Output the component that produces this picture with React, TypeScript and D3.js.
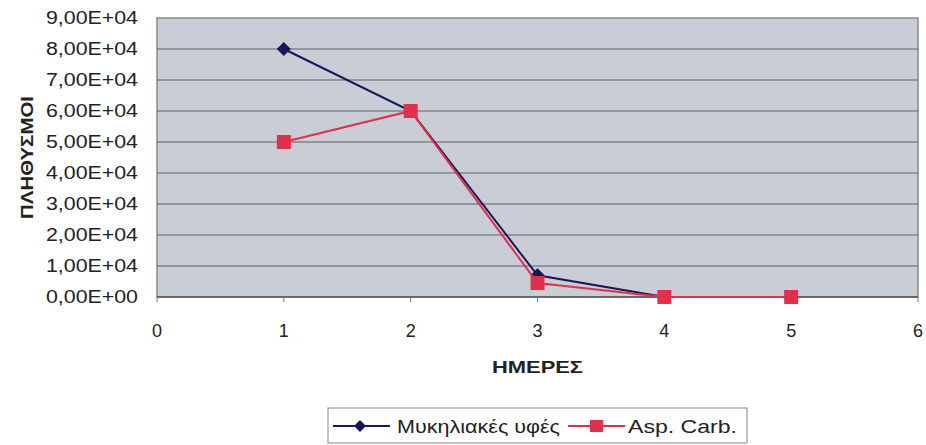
import React from "react";
import * as d3 from "d3";

// days on the x axis
const days = [1, 2, 3, 4, 5];
const fungal = [80000, 60000, 7000, 0, 0]; // Μυκηλιακές υφές
const aspCarb = [50000, 60000, 4500, 0, 0]; // Asp. Carb.
const yTicks = [0, 10000, 20000, 30000, 40000, 50000, 60000, 70000, 80000, 90000];
const xTicks = [0, 1, 2, 3, 4, 5, 6];

const fmt = (v: number) => (v / 10000).toFixed(2).replace(".", ",") + "E+" + (v === 0 ? "00" : "04");

export default function App() {
  const width = 926;
  const height = 445;
  const m = { left: 157, right: 8, top: 18, bottom: 148 };
  const x = d3.scaleLinear().domain([0, 6]).range([m.left, width - m.right]);
  const y = d3.scaleLinear().domain([0, 90000]).range([height - m.bottom, m.top]);
  const line = d3
    .line<number>()
    .x((_, i) => x(days[i]))
    .y(d => y(d));
  const font = "'Liberation Sans', Arial, sans-serif";
  const blue = "#16165a";
  const red = "#e2304c";

  const diamond = (cx: number, cy: number, r: number) =>
    `M${cx},${cy - r}L${cx + r},${cy}L${cx},${cy + r}L${cx - r},${cy}Z`;

  return (
    <svg width={width} height={height} style={{ position: "absolute", left: 0, top: 0, background: "#fff" }} fontFamily={font}>
      <rect x={x(0)} y={y(90000)} width={x(6) - x(0)} height={y(0) - y(90000)} fill="#c9cdd6" stroke="#8a8a8a" strokeWidth={1.5} />
      {yTicks.map(t => (
        <g key={t}>
          {t > 0 && t < 90000 && (
            <line x1={x(0)} x2={x(6)} y1={y(t)} y2={y(t)} stroke="#5e6066" strokeWidth={1.2} />
          )}
          <text x={138} y={y(t)} dy="0.36em" textAnchor="end" fontSize={18} fill="#222"
            textLength={92} lengthAdjust="spacingAndGlyphs">
            {fmt(t)}
          </text>
        </g>
      ))}
      <line x1={x(0)} x2={x(6)} y1={y(0)} y2={y(0)} stroke="#555" strokeWidth={1.5} />
      {xTicks.map(t => (
        <g key={t}>
          <line x1={x(t)} x2={x(t)} y1={y(0)} y2={y(0) + 5} stroke="#777" strokeWidth={1} />
          <text x={x(t)} y={y(0) + 40} textAnchor="middle" fontSize={18} fill="#222">
            {t}
          </text>
        </g>
      ))}
      <text
        transform={`translate(33,${(y(0) + y(90000)) / 2}) rotate(-90)`}
        textAnchor="middle"
        fontSize={17}
        fontWeight="bold"
        fill="#222"
        textLength={123}
        lengthAdjust="spacingAndGlyphs"
      >
        ΠΛΗΘΥΣΜΟΙ
      </text>
      <text x={x(3)} y={373} textAnchor="middle" fontSize={17} fontWeight="bold" fill="#222"
        textLength={91} lengthAdjust="spacingAndGlyphs">
        ΗΜΕΡΕΣ
      </text>

      <path d={line(fungal) || ""} fill="none" stroke={blue} strokeWidth={2} />
      {fungal.map((v, i) => (
        <path key={i} d={diamond(x(days[i]), y(v), 7)} fill={blue} />
      ))}
      <path d={line(aspCarb) || ""} fill="none" stroke={red} strokeWidth={2} />
      {aspCarb.map((v, i) => (
        <rect key={i} x={x(days[i]) - 7} y={y(v) - 7} width={14} height={14} fill={red} />
      ))}

      <g>
        <rect x={328} y={408} width={419} height={35} fill="#fff" stroke="#999" strokeWidth={1.2} />
        <line x1={333} x2={390} y1={426} y2={426} stroke={blue} strokeWidth={2} />
        <path d={diamond(360, 426, 6)} fill={blue} />
        <text x={397} y={426} dy="0.36em" fontSize={19} fill="#222" textLength={163} lengthAdjust="spacingAndGlyphs">
          Μυκηλιακές υφές
        </text>
        <line x1={568} x2={625} y1={426} y2={426} stroke={red} strokeWidth={2} />
        <rect x={590} y={420} width={13} height={12} fill={red} />
        <text x={628} y={426} dy="0.36em" fontSize={19} fill="#222" textLength={109} lengthAdjust="spacingAndGlyphs">
          Asp. Carb.
        </text>
      </g>
    </svg>
  );
}
